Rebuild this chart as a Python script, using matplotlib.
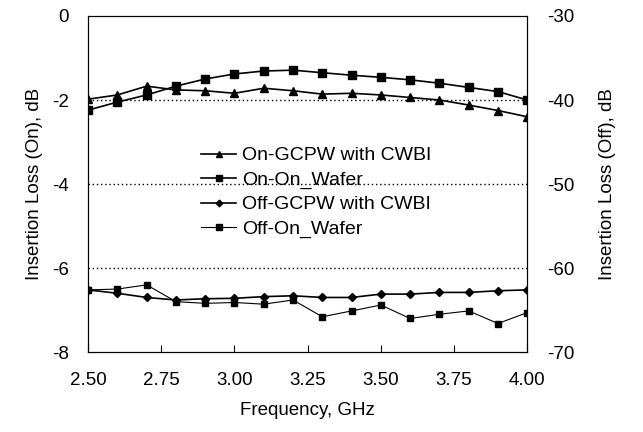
import matplotlib.pyplot as plt
import numpy as np

plt.rcParams['font.family'] = ['Liberation Sans', 'DejaVu Sans']
plt.rcParams['axes.unicode_minus'] = False

freq = [2.5, 2.6, 2.7, 2.8, 2.9, 3.0, 3.1, 3.2, 3.3, 3.4, 3.5, 3.6, 3.7, 3.8, 3.9, 4.0]
on_gcpw = [-1.98, -1.88, -1.67, -1.76, -1.78, -1.84, -1.72, -1.78, -1.86, -1.84, -1.88, -1.94, -2.0, -2.12, -2.25, -2.40]
on_wafer = [-2.24, -2.05, -1.88, -1.67, -1.5, -1.38, -1.31, -1.29, -1.35, -1.41, -1.46, -1.52, -1.60, -1.70, -1.80, -2.0]
off_gcpw = [-62.6, -63.0, -63.5, -63.8, -63.65, -63.6, -63.4, -63.3, -63.5, -63.5, -63.1, -63.1, -62.9, -62.9, -62.7, -62.6]
off_wafer = [-62.6, -62.5, -62.0, -64.0, -64.2, -64.1, -64.3, -63.8, -65.8, -65.1, -64.4, -66.0, -65.5, -65.1, -66.6, -65.3]

fig = plt.figure(figsize=(6.43, 4.32), dpi=100)
ax = fig.add_axes([0.137, 0.185, 0.683, 0.778])
ax2 = ax.twinx()

l1, = ax.plot(freq, on_gcpw, color='black', lw=1.2, marker='^', ms=6, label='On-GCPW with CWBI')
l2, = ax.plot(freq, on_wafer, color='black', lw=1.2, marker='s', ms=6, label='On-On_Wafer')
l3, = ax2.plot(freq, off_gcpw, color='black', lw=1.2, marker='D', ms=4.5, label='Off-GCPW with CWBI')
l4, = ax2.plot(freq, off_wafer, color='black', lw=0.8, marker='s', ms=5, label='Off-On_Wafer')

for yv in [-2, -4, -6]:
    ax.axhline(yv, color='black', lw=1.0, ls=(0, (1, 2)), zorder=0)

ax.set_xlim(2.5, 4.0)
ax.set_ylim(-8, 0)
ax2.set_ylim(-70, -30)
ax.set_xticks(np.arange(2.5, 4.01, 0.25))
ax.set_xticklabels(['2.50', '2.75', '3.00', '3.25', '3.50', '3.75', '4.00'])
ax.set_yticks([-8, -6, -4, -2, 0])
ax2.set_yticks([-70, -60, -50, -40, -30])

ax.tick_params(axis='x', direction='in', labelsize=13.5, pad=14, length=5)
ax.tick_params(axis='y', direction='in', labelsize=13.5, pad=14, length=0)
ax2.tick_params(axis='y', direction='in', labelsize=13.5, pad=14, length=0)

ax.set_xlabel('Frequency, GHz', fontsize=13.5, labelpad=10)
ax.set_ylabel('Insertion Loss (On), dB', fontsize=13.5, labelpad=6)
ax2.set_ylabel('Insertion Loss (Off), dB', fontsize=13.5, labelpad=18)

ax.legend(handles=[l1, l2, l3, l4], loc='center', bbox_to_anchor=(0.52, 0.475),
          frameon=False, fontsize=14, handlelength=1.8, handletextpad=0.3,
          labelspacing=0.35, markerscale=0.75)

fig.savefig('out.png', dpi=100)
